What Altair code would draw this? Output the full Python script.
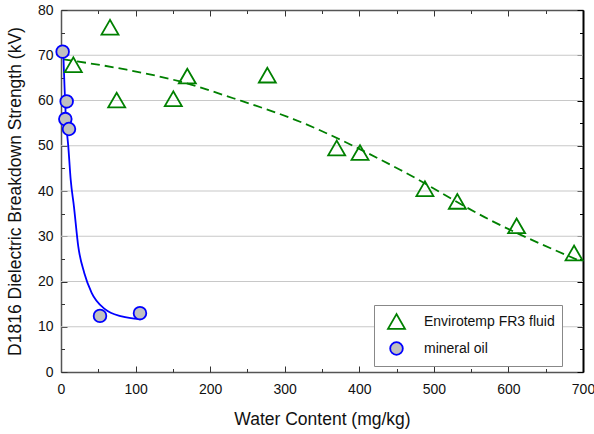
import altair as alt
import pandas as pd

# ---------------- data ----------------
series_names = ["Envirotemp FR3 fluid", "mineral oil"]

fr3_water = [16.5, 65.7, 74.7, 150.6, 169.4, 276.7, 369.7, 401.0, 488.0, 531.5, 611.0, 688.0]
fr3_kv = [67.9, 76.2, 60.1, 60.4, 65.4, 65.6, 49.5, 48.5, 40.5, 37.7, 32.3, 26.3]

mineral_water = [2.2, 7.6, 5.8, 10.7, 52.3, 105.9]
mineral_kv = [70.8, 59.8, 55.9, 53.7, 12.4, 13.0]

# fitted curves as drawn in the reference
fr3_fit_water = [3.0, 88.1, 159.6, 231.0, 311.5, 454.6, 575.3, 698.0]
fr3_fit_kv = [69.1, 66.8, 64.2, 60.5, 55.9, 44.7, 33.6, 24.4]

mineral_fit_water = [3.1, 6.7, 9.8, 13.0, 17.4, 23.2, 31.2, 41.1, 59.0, 81.4, 106.0]
mineral_fit_kv = [70.4, 55.7, 49.8, 42.5, 36.5, 27.7, 21.9, 17.5, 13.9, 12.3, 11.7]

x_ticks = list(range(0, 701, 50))
x_labels = list(range(0, 701, 100))
y_ticks = list(range(0, 81, 5))
y_labels = list(range(0, 81, 10))
grid_values = [10, 20, 30, 40, 50, 60, 70]

# ---------------- styling ----------------
FONT = "Liberation Sans"
W, H = 522, 362
GREEN = "#008000"
BLUE = "#0000ff"
AXIS_GRAY = "#555555"
TEXT = "#111111"

xscale = alt.Scale(domain=[0, 700], nice=False, zero=False)
yscale = alt.Scale(domain=[0, 80], nice=False, zero=False)

x_tick_size = {"condition": {"test": "datum.value % 100 === 0", "value": 6}, "value": 3.5}
y_tick_size = {"condition": {"test": "datum.value % 10 === 0", "value": 6}, "value": 3.5}

axis_x_main = alt.Axis(orient="bottom", values=x_labels, format="d", ticks=False,
                       domain=True, domainColor=AXIS_GRAY, domainWidth=1.5, grid=False,
                       labelFlush=False, labelOverlap=False,
                       labelFont=FONT, labelFontSize=14, labelColor=TEXT, labelPadding=10,
                       title="Water Content (mg/kg)", titleFont=FONT, titleFontSize=17.5,
                       titleFontWeight="normal", titleColor=TEXT, titlePadding=14)
axis_x_inner_bottom = alt.Axis(orient="top", offset=-H, values=x_ticks, labels=False,
                               domain=False, grid=False, ticks=True, tickSize=x_tick_size,
                               tickColor="#333333", tickWidth=1, title=None)
axis_x_inner_top = alt.Axis(orient="bottom", offset=-H, values=x_ticks, labels=False,
                            domain=True, domainColor=AXIS_GRAY, domainWidth=1.5, grid=False,
                            ticks=True, tickSize=x_tick_size, tickColor="#333333",
                            tickWidth=1, title=None)

axis_y_main = alt.Axis(orient="left", values=y_labels, format="d", ticks=False,
                       domain=True, domainColor=AXIS_GRAY, domainWidth=1.5, grid=False,
                       labelFlush=False, labelOverlap=False,
                       labelFont=FONT, labelFontSize=14, labelColor=TEXT, labelPadding=8,
                       title="D1816 Dielectric Breakdown Strength (kV)", titleFont=FONT,
                       titleFontSize=17.5, titleFontWeight="normal", titleColor=TEXT,
                       titlePadding=13)
axis_y_inner_left = alt.Axis(orient="right", offset=-W, values=y_ticks, labels=False,
                             domain=False, grid=False, ticks=True, tickSize=y_tick_size,
                             tickColor="#333333", tickWidth=1, title=None)
axis_y_inner_right = alt.Axis(orient="left", offset=-W, values=y_ticks, labels=False,
                              domain=True, domainColor="#000000", domainWidth=2, grid=False,
                              ticks=True, tickSize=y_tick_size, tickColor="#000000",
                              tickWidth=1, title=None)

# ---------------- tables ----------------
pts = pd.DataFrame({
    "water": fr3_water + mineral_water,
    "kv": fr3_kv + mineral_kv,
    "series": [series_names[0]] * len(fr3_water) + [series_names[1]] * len(mineral_water),
})
fr3_fit = pd.DataFrame({"water": fr3_fit_water, "kv": fr3_fit_kv})
mineral_fit = pd.DataFrame({"water": mineral_fit_water, "kv": mineral_fit_kv})
grid = pd.DataFrame({"kv": grid_values})

# ---------------- layers ----------------
grid_layer = alt.Chart(grid).mark_rule(color="#c8c8c8", strokeWidth=1.2).encode(
    y=alt.Y("kv:Q", scale=yscale, axis=None)
)

fr3_line = alt.Chart(fr3_fit).mark_line(
    color=GREEN, strokeWidth=1.8, strokeDash=[9, 5], interpolate="monotone"
).encode(
    x=alt.X("water:Q", scale=xscale, axis=axis_x_main),
    y=alt.Y("kv:Q", scale=yscale, axis=axis_y_main),
)

mineral_line = alt.Chart(mineral_fit).mark_line(
    color=BLUE, strokeWidth=1.8, interpolate="monotone"
).encode(
    x=alt.X("water:Q", scale=xscale, axis=axis_x_inner_bottom),
    y=alt.Y("kv:Q", scale=yscale, axis=axis_y_inner_left),
)

legend = alt.Legend(
    title=None, orient="none", legendX=313, legendY=295, direction="vertical",
    padding=7, strokeColor="#888888", fillColor="white",
    labelFont=FONT, labelFontSize=14, labelColor=TEXT, labelOffset=18,
    rowPadding=5, symbolStrokeWidth=1.8, symbolOffset=6,
)

points = alt.Chart(pts).mark_point(opacity=1, strokeWidth=1.8).encode(
    x=alt.X("water:Q", scale=xscale, axis=axis_x_inner_top),
    y=alt.Y("kv:Q", scale=yscale, axis=axis_y_inner_right),
    shape=alt.Shape("series:N", scale=alt.Scale(domain=series_names, range=["triangle-up", "circle"]), legend=legend),
    stroke=alt.Stroke("series:N", scale=alt.Scale(domain=series_names, range=[GREEN, BLUE]), legend=legend),
    fill=alt.Fill("series:N", scale=alt.Scale(domain=series_names, range=["transparent", "#c0c0c0"]), legend=legend),
    size=alt.Size("series:N", scale=alt.Scale(domain=series_names, range=[289, 160]), legend=legend),
)

chart = alt.layer(grid_layer, fr3_line, mineral_line, points).resolve_scale(
    x="shared", y="shared"
).resolve_axis(
    x="independent", y="independent"
).properties(
    width=W, height=H,
    autosize=alt.AutoSizeParams(type="none"),
    padding={"left": 61, "top": 10, "right": 11, "bottom": 62},
    background="white",
).configure_view(stroke=None)

chart.save("out.html", embed_options={"renderer": "svg", "actions": False})
